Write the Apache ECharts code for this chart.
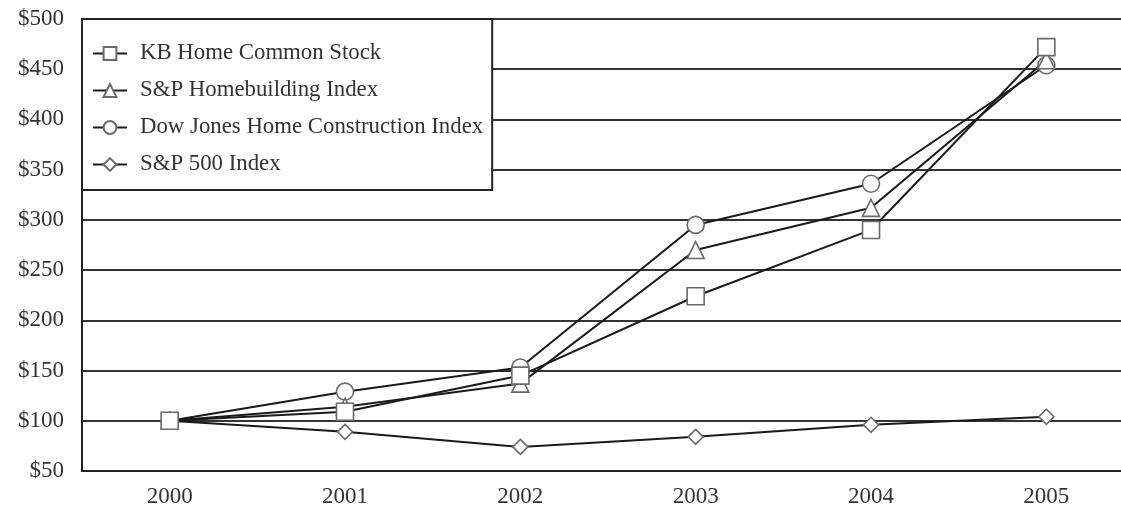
<!DOCTYPE html>
<html>
<head>
<meta charset="utf-8">
<script src="https://cdn.jsdelivr.net/npm/echarts@6/dist/echarts.min.js"></script>
<style>
	html, body { margin: 0; padding: 0; background: #fff; }
	#chart { width: 1121px; height: 512px; }
</style>
</head>
<body>
<div id="chart"></div>
<script>
// 年份
var years = ['2000', '2001', '2002', '2003', '2004', '2005'];
// 各系列数值
var kbHome = [100, 109, 145, 224, 290, 472];
var spHomebuilding = [100, 114, 137, 270, 312, 459];
var dowJonesHome = [100, 129, 153, 295, 336, 454];
var sp500 = [100, 89, 74, 84, 96, 104];
// 纵轴刻度
var yMin = 50, yMax = 500, yStep = 50;

var seriesNames = ['KB Home Common Stock', 'S&P Homebuilding Index', 'Dow Jones Home Construction Index', 'S&P 500 Index'];
var font = '"Liberation Serif", "DejaVu Serif", serif';

function makeLine(name, data, symbol, size){
	return {
		name: name,
		type: 'line',
		data: data,
		symbol: symbol,
		symbolSize: size,
		lineStyle: { color: '#1a1a1a', width: 2 },
		itemStyle: { color: '#ffffff', borderColor: '#6a6a6a', borderWidth: 1.6 },
		emphasis: { disabled: true }
	};
}

var myChart = echarts.init(document.getElementById('chart'));
myChart.setOption({
	animation: false,
	backgroundColor: '#ffffff',
	// 图表右侧超出画布
	grid: { left: 82, top: 19, width: 1052, height: 452, outerBoundsMode: 'none', containLabel: false },
	legend: {
		orient: 'vertical',
		left: 82,
		top: 19,
		padding: [23, 9, 14, 10],
		itemGap: 14,
		itemWidth: 34,
		itemHeight: 16,
		backgroundColor: '#ffffff',
		borderColor: '#222222',
		borderWidth: 2,
		data: seriesNames,
		textStyle: { fontFamily: font, fontSize: 22.8, color: '#333333', padding: [0, 0, 0, 8], lineHeight: 23 }
	},
	xAxis: {
		type: 'category',
		data: years,
		boundaryGap: true,
		axisLine: { lineStyle: { color: '#222222', width: 2 } },
		axisTick: { alignWithLabel: true, length: 7, lineStyle: { color: '#222222', width: 2 } },
		axisLabel: { fontFamily: font, fontSize: 23, color: '#333333', margin: 14 },
		splitLine: { show: false }
	},
	yAxis: {
		type: 'value',
		min: yMin,
		max: yMax,
		interval: yStep,
		axisLine: { show: true, lineStyle: { color: '#222222', width: 2 } },
		axisTick: { show: false },
		axisLabel: {
			fontFamily: font, fontSize: 23, color: '#333333', margin: 18,
			formatter: function(v){ return '$' + v; }
		},
		splitLine: { lineStyle: { color: '#333333', width: 2 } }
	},
	// 绘制顺序：KB Home 在最上层
	series: [
		makeLine(seriesNames[3], sp500, 'diamond', 15),
		makeLine(seriesNames[2], dowJonesHome, 'circle', 17),
		makeLine(seriesNames[1], spHomebuilding, 'triangle', 17),
		makeLine(seriesNames[0], kbHome, 'rect', 17)
	]
});
</script>
</body>
</html>
